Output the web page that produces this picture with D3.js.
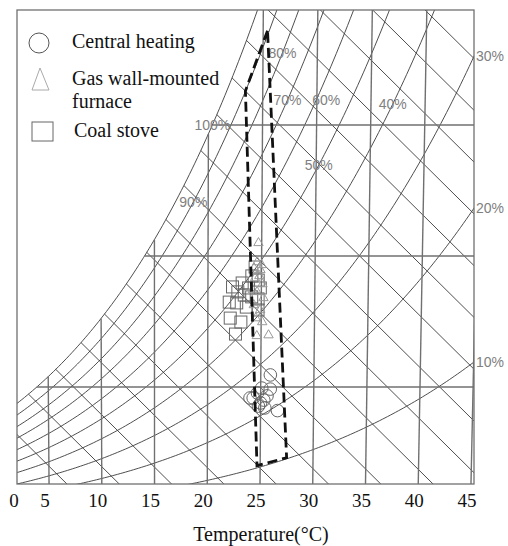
<!DOCTYPE html>
<html><head><meta charset="utf-8">
<script src="https://cdn.jsdelivr.net/npm/d3@7"></script>
<style>body{margin:0;background:#fff}svg{display:block}</style>
</head><body>
<svg id="chart" width="508" height="546"></svg>
<script>
// ---------------- data ----------------
const xTickLabels = [0, 5, 10, 15, 20, 25, 30, 35, 40, 45];          // °C
const isotherms   = [5, 10, 15, 20, 25, 30, 35, 40, 45];             // °C
const humidityLines = [5, 10, 15];                                   // g/kg
const rhCurves    = [10, 20, 30, 40, 50, 60, 70, 80, 90, 100];       // %
const enthalpyLines = [10, 15, 20, 25, 30, 35, 40, 45, 50, 55, 60, 65, 70, 75, 80, 85, 90]; // kJ/kg
// RH labels placed on their curve at a given humidity ratio (g/kg)
const rhLabelsOnCurve = [
  {rh: 100, W: 15.0}, {rh: 90, W: 12.06}, {rh: 80, W: 17.75},
  {rh: 70, W: 15.95}, {rh: 60, W: 15.95}, {rh: 50, W: 13.47}, {rh: 40, W: 15.8}
];
const rhLabelsAtEdge = [30, 20, 10];
// comfort zone polygon [t °C, W g/kg]
const comfortZone = [[25.4, 18.6], [23.4, 16.3], [24.7, 2.0], [27.5, 2.3]];
// measurements [t °C, W g/kg]
const centralHeating = [
  [25.9, 5.46], [25.1, 4.96], [25.9, 4.92], [24.3, 4.58], [24.0, 4.58], [24.7, 4.77],
  [25.3, 4.50], [24.8, 4.27], [25.4, 4.20], [26.6, 4.10], [25.0, 4.39], [25.6, 4.66]
];
const gasFurnace = [
  [24.7, 10.5], [24.6, 6.95], [25.7, 6.98], [24.6, 9.77], [24.9, 9.47], [24.4, 9.16],
  [25.1, 8.93], [24.6, 8.63], [25.2, 8.40], [24.3, 8.13], [24.9, 7.94], [24.5, 7.63],
  [25.1, 7.48], [24.2, 8.70], [24.8, 9.24], [25.0, 9.66], [24.3, 9.54]
];
const coalStove = [
  [22.3, 8.82], [23.2, 8.97], [22.0, 8.24], [22.7, 8.21], [23.4, 8.51], [22.1, 7.63],
  [22.6, 7.02], [24.4, 9.58], [24.7, 9.08], [24.9, 8.78], [24.1, 8.44], [23.6, 8.05],
  [24.7, 8.36], [22.8, 8.63], [24.1, 9.24], [23.8, 8.78], [24.7, 7.94], [23.1, 7.48]
];
const legendItems = ["Central heating", "Gas wall-mounted|furnace", "Coal stove"];
const axisTitle = "Temperature(\u00B0C)";

// ---------------- psychrometrics ----------------
const P = 101.325, C = 2530;
const pvs = t => 0.61094 * Math.exp(17.625 * t / (t + 243.04));
const Wrh = (t, rh) => { const pv = rh / 100 * pvs(t); return 622 * pv / (P - pv); };
const Wsat = t => Wrh(t, 100);
const hOf = (t, W) => 1.006 * t + W / 1000 * (2501 + 1.86 * t);
const uOf = (t, W) => hOf(t, W) - C * W / 1000;
const tFromPvs = p => { const L = Math.log(p / 0.61094); return 243.04 * L / (17.625 - L); };
const pvFromW = W => W / 1000 * P / (0.622 + W / 1000);

// ---------------- layout ----------------
const L = 17, R = 474, T = 10, B = 484;
const svg = d3.select("#chart");
const xU = d3.scaleLinear().domain([1.94, 45.63]).range([L, R]);
const yW = d3.scaleLinear().domain([1.298, 19.389]).range([B, T]);
const px = (t, W) => xU(uOf(t, W));
const py = W => yW(W);

svg.append("defs").append("clipPath").attr("id", "clip")
  .append("rect").attr("x", L).attr("y", T).attr("width", R - L).attr("height", B - T);
const g = svg.append("g").attr("clip-path", "url(#clip)");
const line = d3.line();

// enthalpy lines
enthalpyLines.forEach(h => {
  let a = -40, b = 60;
  for (let i = 0; i < 60; i++) { const m = (a + b) / 2; if (hOf(m, Wsat(m)) > h) b = m; else a = m; }
  const ws = Wsat(a);
  g.append("path").attr("d", line([[xU(h - C * ws / 1000), yW(ws)], [xU(h), yW(0)]]))
    .attr("fill", "none").attr("stroke", "#3a3a3a").attr("stroke-width", 0.9);
});
// RH curves
rhCurves.forEach(rh => {
  const pts = [];
  for (let t = -15; t <= 50; t += 0.25) { const w = Wrh(t, rh); if (w > 30) break; pts.push([px(t, w), py(w)]); }
  g.append("path").attr("d", line(pts)).attr("fill", "none")
    .attr("stroke", "#3a3a3a").attr("stroke-width", 0.9);
});
// isotherms
isotherms.forEach(t => {
  const ws = Wsat(t);
  g.append("path").attr("d", line([[px(t, ws), py(ws)], [px(t, 0), py(0)]]))
    .attr("fill", "none").attr("stroke", "#707070").attr("stroke-width", 1.4);
});
// humidity ratio lines
humidityLines.forEach(W => {
  const td = tFromPvs(pvFromW(W));
  g.append("path").attr("d", line([[px(td, W), py(W)], [px(55, W), py(W)]]))
    .attr("fill", "none").attr("stroke", "#707070").attr("stroke-width", 1.4);
});

// frame
svg.append("rect").attr("x", L).attr("y", T).attr("width", R - L).attr("height", B - T)
  .attr("fill", "none").attr("stroke", "#707070").attr("stroke-width", 1.3);

// RH labels
const lblStyle = s => s.attr("font-family", "Liberation Sans, Arial, sans-serif")
  .attr("font-size", 14).attr("fill", "#808080");
const labelShift = {60: 10};
rhLabelsOnCurve.forEach(d => {
  const t = tFromPvs(pvFromW(d.W) / (d.rh / 100));
  svg.append("text").attr("x", px(t, d.W) + (labelShift[d.rh] || 0)).attr("y", py(d.W))
    .attr("dy", "0.36em").attr("text-anchor", "middle").text(d.rh + "%").call(lblStyle);
});
rhLabelsAtEdge.forEach(rh => {
  let a = 20, b = 50;
  for (let i = 0; i < 60; i++) { const m = (a + b) / 2; if (px(m, Wrh(m, rh)) > R) b = m; else a = m; }
  svg.append("text").attr("x", R + 2).attr("y", py(Wrh(a, rh))).attr("dy", "0.36em")
    .text(rh + "%").call(lblStyle);
});

// data points
const pg = svg.append("g");
coalStove.forEach(d => pg.append("rect").attr("x", px(d[0], d[1]) - 6).attr("y", py(d[1]) - 6)
  .attr("width", 12).attr("height", 12).attr("fill", "none").attr("stroke", "#666").attr("stroke-width", 1));
const tri = d3.symbol().type(d3.symbolTriangle).size(38);
gasFurnace.forEach(d => pg.append("path").attr("d", tri())
  .attr("transform", `translate(${px(d[0], d[1])},${py(d[1])})`)
  .attr("fill", "none").attr("stroke", "#999").attr("stroke-width", 1));
centralHeating.forEach(d => pg.append("circle").attr("cx", px(d[0], d[1])).attr("cy", py(d[1]))
  .attr("r", 6.3).attr("fill", "none").attr("stroke", "#666").attr("stroke-width", 1));

// comfort zone
svg.append("path").attr("d", line(comfortZone.map(d => [px(d[0], d[1]), py(d[1])])) + "Z")
  .attr("fill", "none").attr("stroke", "#111").attr("stroke-width", 2.8)
  .attr("stroke-dasharray", "10,5");

// x tick labels
const serif = "Liberation Serif, Times New Roman, serif";
xTickLabels.forEach(v => {
  const x = Math.max(px(v, yW.domain()[0]) - 4, L - 3);
  svg.append("text").attr("x", x).attr("y", 507).attr("text-anchor", "middle")
    .attr("font-family", serif).attr("font-size", 19).attr("fill", "#111").text(v);
});
svg.append("text").attr("x", 261).attr("y", 541).attr("text-anchor", "middle")
  .attr("font-family", serif).attr("font-size", 20).attr("fill", "#111").text(axisTitle);

// legend
const lg = svg.append("g");
lg.append("circle").attr("cx", 39).attr("cy", 43).attr("r", 10)
  .attr("fill", "none").attr("stroke", "#555").attr("stroke-width", 1);
lg.append("path").attr("d", "M40,68L49,90L32,90Z")
  .attr("fill", "none").attr("stroke", "#aaa").attr("stroke-width", 1);
lg.append("rect").attr("x", 32).attr("y", 122).attr("width", 21).attr("height", 19)
  .attr("fill", "none").attr("stroke", "#666").attr("stroke-width", 1);
const legendPos = [[72, 48], [72, 85], [74, 137]];
legendItems.forEach((s, i) => {
  const t = lg.append("text").attr("x", legendPos[i][0]).attr("y", legendPos[i][1])
    .attr("font-family", serif).attr("font-size", 20).attr("fill", "#111");
  s.split("|").forEach((part, j) => t.append("tspan").attr("x", legendPos[i][0])
    .attr("dy", j ? 23 : 0).text(part));
});
</script>
</body></html>
